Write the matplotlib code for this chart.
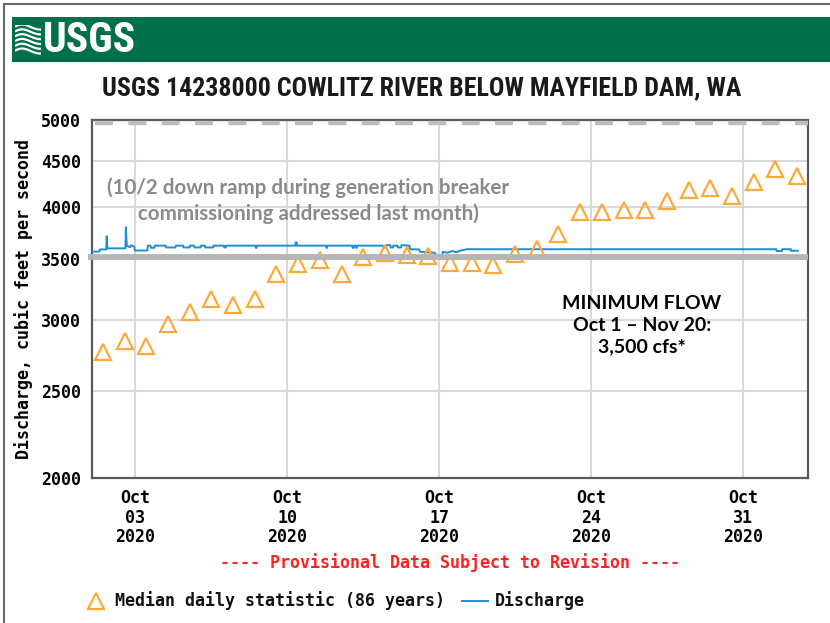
import matplotlib
matplotlib.use("Agg")
from matplotlib import pyplot as plt
import matplotlib.dates as mdates
from matplotlib.lines import Line2D
from matplotlib.patches import Rectangle
import numpy as np
import pandas as pd

# ---- data ----
site_title = "USGS 14238000 COWLITZ RIVER BELOW MAYFIELD DAM, WA"

median_days = pd.date_range("2020-10-01 12:00", periods=33, freq="D")
median_cfs = [2758, 2841, 2802, 2969, 3057, 3164, 3117, 3161, 3367, 3461, 3490,
              3373, 3519, 3557, 3535, 3533, 3465, 3465, 3450, 3547, 3592, 3738,
              3946, 3946, 3976, 3976, 4062, 4185, 4204, 4113, 4264, 4413, 4331]

q_time = [
    "10-01 00:00", "10-01 08:15", "10-01 08:45", "10-01 15:45", "10-01 16:15", "10-01 17:00",
    "10-02 13:00", "10-02 13:30", "10-02 14:30", "10-02 18:00", "10-02 19:15", "10-02 22:45",
    "10-02 23:30", "10-03 13:15", "10-03 13:45", "10-03 16:45", "10-03 17:15", "10-03 21:00",
    "10-03 21:30", "10-04 09:30", "10-04 10:00", "10-04 20:15", "10-04 21:00", "10-05 05:00",
    "10-05 05:15", "10-05 12:00", "10-05 12:15", "10-05 17:00", "10-05 17:15", "10-06 00:00",
    "10-06 00:15", "10-06 05:00", "10-06 05:15", "10-06 14:00", "10-06 14:15", "10-07 02:00",
    "10-07 02:15", "10-07 04:00", "10-07 04:15", "10-08 13:00", "10-08 13:15", "10-08 14:00",
    "10-08 14:15", "10-10 09:00", "10-10 09:15", "10-10 10:30", "10-10 10:45", "10-11 19:00",
    "10-11 19:15", "10-11 20:00", "10-11 20:15", "10-13 00:00", "10-13 00:15", "10-13 01:30",
    "10-13 01:45", "10-13 04:00", "10-13 04:15", "10-13 05:00", "10-13 05:15", "10-14 10:00",
    "10-14 10:15", "10-14 13:00", "10-14 13:15", "10-14 18:00", "10-14 18:15", "10-14 21:00",
    "10-14 21:15", "10-15 02:00", "10-15 02:15", "10-15 06:00", "10-15 06:15", "10-15 15:00",
    "10-15 15:45", "10-16 02:00", "10-16 03:00", "10-16 19:00", "10-16 21:30", "10-17 03:30",
    "10-17 04:00", "10-17 09:30", "10-17 14:30", "10-17 19:00", "10-18 00:00", "10-18 07:00",
    "11-01 13:00", "11-01 13:15", "11-01 19:00", "11-01 19:15", "11-02 05:00", "11-02 05:15",
    "11-02 12:45",
]
q_cfs = [
    3570, 3570, 3590, 3590, 3715, 3600,
    3600, 3800, 3625, 3610, 3630, 3615,
    3580, 3580, 3625, 3625, 3605, 3605,
    3625, 3625, 3608, 3608, 3625, 3625,
    3608, 3608, 3625, 3625, 3608, 3608,
    3625, 3625, 3608, 3608, 3625, 3625,
    3608, 3608, 3625, 3625, 3605, 3605,
    3625, 3625, 3655, 3655, 3625, 3625,
    3605, 3605, 3625, 3625, 3605, 3605,
    3625, 3625, 3605, 3605, 3625, 3625,
    3608, 3608, 3630, 3630, 3608, 3608,
    3625, 3625, 3608, 3608, 3630, 3625,
    3592, 3590, 3568, 3560, 3525, 3525,
    3568, 3560, 3575, 3565, 3580, 3592,
    3592, 3575, 3575, 3592, 3592, 3578,
    3578,
]

y_ticks = [2000, 2500, 3000, 3500, 4000, 4500, 5000]
tick_days = ["2020-10-03", "2020-10-10", "2020-10-17", "2020-10-24", "2020-10-31"]
min_flow = 3525      # hand-drawn minimum-flow bar
top_dash = 4960      # dashed bar along the top

q_dates = pd.to_datetime(["2020-" + t for t in q_time])

mono = "DejaVu Sans Mono"
narrow = ["Liberation Sans Narrow", "Roboto Condensed", "Liberation Sans"]
orange = "#ffa93a"
blue = "#1b8fd2"

plt.rcParams["lines.scale_dashes"] = False

fig = plt.figure(figsize=(8.3, 6.23), dpi=100)
fig.patch.set_facecolor("white")

# page frame + green header
fig.add_artist(Line2D([4/830, 4/830], [0, 1 - 4/623], color="#6a6a6a", lw=1.5))
fig.add_artist(Line2D([4/830, 1], [1 - 4/623, 1 - 4/623], color="#6a6a6a", lw=1.5))
fig.add_artist(Rectangle((12/830, 1 - 62/623), 1, 45/623, transform=fig.transFigure,
                         facecolor="#00704a", edgecolor="none", zorder=0))
# little wave icon
icon = fig.add_axes([15/830, 1 - 55/623, 26/830, 30/623], zorder=5)
icon.set_xlim(0, 1)
icon.set_ylim(0, 1)
icon.axis("off")
t = np.linspace(0, 1, 40)
for k in range(6):
    icon.plot(t, 0.1 + k * 0.16 + 0.14 * np.sin(np.pi * t * 1.3 + 0.3) * (1 - 0.6 * t),
              color="white", lw=1.6, solid_capstyle="butt")
fig.text(43/830, 1 - 40/623, "USGS", color="white", fontsize=30, fontweight="bold",
         family=narrow, va="center", ha="left", zorder=5)

fig.text(422/830, 1 - 88/623, site_title, fontsize=18.6, family=narrow,
         fontweight="bold", ha="center", va="center", color="#1a1a1a")

# ---- main axes ----
ax = fig.add_axes([92/830, 1 - 478/623, 716/830, 358/623])
ax.set_yscale("log")
ax.set_ylim(2000, 5000)
ax.set_xlim(pd.Timestamp("2020-10-01"), pd.Timestamp("2020-11-03"))

ax.yaxis.set_major_locator(plt.FixedLocator(y_ticks))
ax.yaxis.set_major_formatter(plt.FuncFormatter(lambda v, p: f"{v:.0f}"))
ax.yaxis.set_minor_locator(plt.NullLocator())
ax.set_xticks(pd.to_datetime(tick_days))
ax.xaxis.set_major_formatter(mdates.DateFormatter("%b\n%d\n%Y"))
ax.xaxis.set_minor_locator(plt.NullLocator())

ax.grid(True, color="#d9d9d9", lw=1.5)
ax.set_axisbelow(True)
for s in ax.spines.values():
    s.set_color("#5a5a5a")
    s.set_linewidth(1.6)
ax.tick_params(length=0, pad=8)
for lab in ax.get_xticklabels() + ax.get_yticklabels():
    lab.set_family(mono)
    lab.set_fontweight("bold")
    lab.set_fontsize(12)
    lab.set_linespacing(1.1)

ax.set_ylabel("Discharge, cubic feet per second", family=mono, fontweight="bold",
              fontsize=12, labelpad=6)

ax.plot(q_dates, q_cfs, color=blue, lw=1.4, zorder=3)
ax.plot(median_days, median_cfs, linestyle="none", marker="^", markersize=11,
        markerfacecolor="none", markeredgecolor=orange, markeredgewidth=1.6, zorder=4)

# overlays drawn on the image
yt = ax.get_yaxis_transform()
ax.plot([-0.006, 1.0], [min_flow, min_flow], transform=yt, color="#b5b5b5", lw=4.2,
        solid_capstyle="butt", clip_on=False, zorder=6)
ax.plot([0.004, 1.0], [top_dash, top_dash], transform=yt, color="#bdbdbd", lw=3.2,
        dashes=(13, 11), clip_on=False, zorder=6)

ax.text(0.302, 0.775, "(10/2 down ramp during generation breaker\ncommissioning addressed last month)",
        transform=ax.transAxes, ha="center", va="center", fontsize=14.8, family="Lato",
        fontweight="bold", color="#8a8a8a", linespacing=1.3, zorder=7)
ax.text(0.768, 0.427, "MINIMUM FLOW\nOct 1 \u2013 Nov 20:\n3,500 cfs*",
        transform=ax.transAxes, ha="center", va="center", fontsize=14, family="Lato",
        fontweight="bold", color="#000000", linespacing=1.33, zorder=7)

# provisional note and legend
fig.text(450/830, 1 - 563/623, "---- Provisional Data Subject to Revision ----",
         color="#ff2020", family=mono, fontweight="bold", fontsize=12,
         ha="center", va="center")
ly = 1 - 601/623
fig.add_artist(Line2D([96/830], [ly], marker="^", markersize=11, markerfacecolor="none",
                      markeredgecolor=orange, markeredgewidth=1.6, linestyle="none"))
fig.text(115/830, ly, "Median daily statistic (86 years)", family=mono, fontweight="bold",
         fontsize=12, va="center", ha="left", color="#111111")
fig.add_artist(Line2D([462/830, 488/830], [ly, ly], color=blue, lw=1.4))
fig.text(495/830, ly, "Discharge", family=mono, fontweight="bold", fontsize=12,
         va="center", ha="left", color="#111111")

fig.savefig("out.png", dpi=100)
